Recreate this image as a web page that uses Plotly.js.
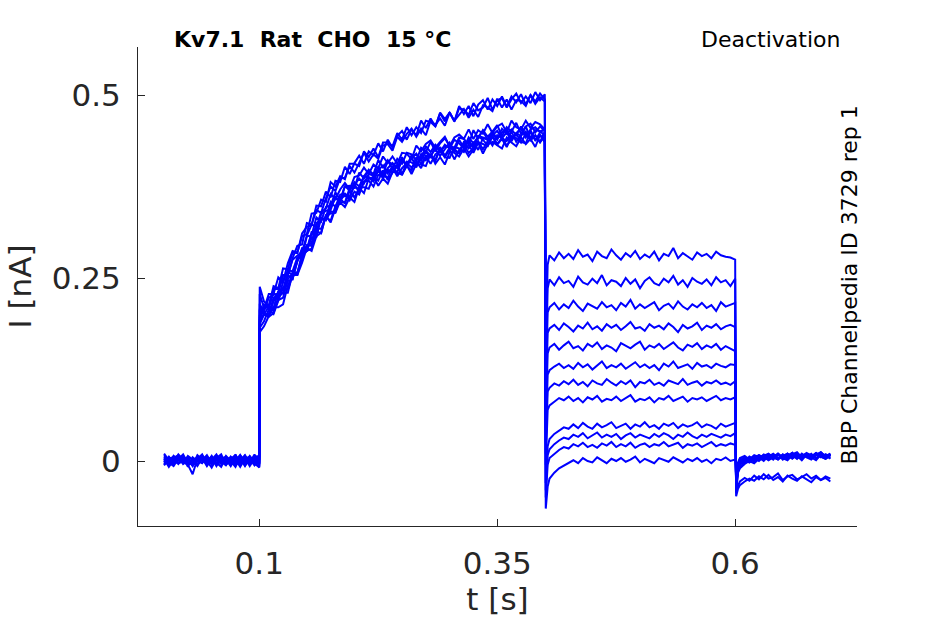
<!DOCTYPE html>
<html>
<head>
<meta charset="utf-8">
<script src="https://cdn.plot.ly/plotly-3.0.1.min.js"></script>
<style>
  html, body { margin: 0; padding: 0; background: #fff; }
  #myDiv { width: 945px; height: 624px; }
</style>
</head>
<body>
<div id="myDiv"></div>
<script>
// sample times (ms) for each protocol segment
var tPre = [0, 5, 10, 15, 20, 25, 30, 35, 40, 45, 50, 55, 60, 65, 70, 75, 80, 85, 90, 95, 100];
var tAct = [100.5, 105, 110, 115, 120, 125, 130, 135, 140, 145, 150, 155, 160, 165, 170, 175, 180, 185, 190, 195, 200,
            205, 210, 215, 220, 225, 230, 235, 240, 245, 250, 255, 260, 265, 270, 275, 280, 285, 290, 295, 300,
            305, 310, 315, 320, 325, 330, 335, 340, 345, 350, 355, 360, 365, 370, 375, 380, 385, 390, 395, 400];
var tDeact = [401, 403, 405, 410, 415, 420, 425, 430, 435, 440, 445, 450, 455, 460, 465, 470, 475, 480, 485, 490, 495, 500,
              505, 510, 515, 520, 525, 530, 535, 540, 545, 550, 555, 560, 565, 570, 575, 580, 585, 590, 595, 600];
var tTail = [601, 603, 605, 610, 615, 620, 625, 630, 635, 640, 645, 650, 655, 660, 665, 670, 675, 680, 685, 690, 695, 700];

// current (pA), one row per sweep
var preCurrent = [
  [4, -3, 7, 1, -2, 5, -6, 2, 8, -1, 3, -5, 6, 0, -4, 7, -2, 4, -7, 3, -3],
  [-2, 6, -4, 3, 9, -3, 1, -7, 4, -1, 6, -2, -8, 5, 2, -4, 8, -1, 3, -6, 2],
  [10, 1, -5, 6, -2, 4, -7, 3, 1, 8, -3, 5, -1, -6, 4, 2, -5, 7, -2, 9, -4],
  [-6, 3, 1, -4, 7, -8, 5, 0, -3, 6, -1, 4, 9, -5, 1, -3, 6, -6, 2, -2, 5],
  [1, -6, 4, 8, -2, -5, -18, 3, 9, -4, 1, 6, -3, 2, -7, 5, 0, -4, 7, -1, -9],
  [6, -2, -7, 3, 1, 5, -4, -1, 7, -6, 2, 9, -2, 4, -5, 1, 8, -3, 0, 5, 1],
  [-4, 5, 2, -3, 6, -1, -6, 8, 2, -4, 4, -7, 3, 6, -2, 9, -5, 1, -3, 4, -6],
  [3, -8, 1, 5, -3, 7, 2, -5, 4, 0, -9, 3, 6, -2, 5, -6, 1, 8, -3, 2, 0],
  [-1, 4, -3, 9, 2, -5, -2, 6, 4, -7, 3, 1, -4, 7, 0, -8, 5, 2, -2, 6, 4],
  [8, -1, -4, 2, 5, -6, 3, 1, -2, 4, -5, 7, 2, -3, 6, -1, 3, -7, 4, -2, -3],
  [-5, 2, 6, -3, -1, 4, -6, 5, 3, -2, 7, -4, 1, -5, 3, 8, -3, 2, -4, 6, 7],
  [2, 5, -2, 7, -4, 1, -3, -5, 6, 2, -1, 4, -3, 5, -6, 2, -8, 3, 6, -4, -8]
];

var actPeak = [238, 190, 182, 215, 205, 176, 228, 199, 196, 187, 208, 193];

var activation = [
  [218, 212, 239, 236, 263, 262, 285, 284, 311, 320, 322, 349, 348, 368, 360, 383, 381, 402, 392, 407,
   417, 406, 423, 418, 434, 423, 439, 428, 444, 451, 439, 453, 445, 465, 455, 468, 457, 475, 464, 476,
   464, 485, 474, 485, 471, 487, 493, 480, 494, 485, 498, 484, 498, 490, 501, 487, 500, 491, 502, 494],
  [214, 209, 230, 223, 244, 261, 259, 278, 279, 307, 308, 333, 327, 347, 349, 367, 357, 375, 376, 373,
   394, 386, 397, 392, 411, 401, 411, 399, 413, 406, 421, 419, 410, 428, 422, 436, 423, 434, 441, 430,
   428, 442, 440, 432, 452, 441, 452, 443, 450, 459, 444, 456, 450, 462, 447, 457, 461, 449, 457, 451],
  [191, 207, 201, 218, 237, 234, 254, 254, 280, 287, 290, 318, 317, 334, 328, 348, 358, 352, 369, 360,
   373, 366, 386, 388, 383, 397, 384, 394, 404, 392, 403, 397, 415, 406, 416, 406, 419, 424, 415, 426,
   412, 425, 432, 421, 427, 437, 426, 437, 444, 433, 442, 431, 439, 447, 436, 434, 450, 438, 445, 436],
  [202, 198, 218, 231, 229, 246, 248, 274, 283, 287, 313, 313, 332, 329, 347, 359, 354, 353, 373, 374,
   372, 389, 387, 382, 397, 404, 393, 402, 394, 411, 404, 415, 401, 418, 424, 417, 426, 417, 426, 435,
   423, 421, 436, 435, 429, 443, 439, 431, 445, 451, 441, 449, 437, 448, 454, 442, 452, 438, 449, 454],
  [208, 228, 228, 251, 245, 270, 287, 285, 307, 310, 338, 339, 357, 354, 381, 375, 389, 385, 406, 406,
   403, 423, 415, 427, 415, 435, 435, 430, 448, 439, 456, 445, 456, 448, 465, 463, 457, 476, 467, 476,
   464, 482, 480, 473, 489, 479, 483, 496, 480, 493, 496, 483, 494, 502, 489, 498, 489, 504, 493, 501],
  [184, 198, 210, 210, 214, 240, 254, 254, 271, 291, 287, 307, 312, 335, 326, 345, 353, 347, 360, 354,
   374, 374, 372, 389, 376, 386, 379, 395, 394, 391, 404, 392, 406, 405, 403, 420, 406, 415, 405, 422,
   421, 416, 427, 416, 426, 435, 420, 433, 436, 431, 427, 442, 435, 430, 442, 433, 440, 429, 446, 436],
  [209, 210, 209, 232, 234, 258, 255, 274, 291, 290, 311, 310, 337, 342, 343, 361, 354, 376, 369, 381,
   375, 389, 398, 389, 397, 392, 410, 405, 401, 413, 402, 418, 418, 412, 430, 422, 432, 422, 432, 427,
   439, 434, 427, 442, 434, 443, 451, 438, 447, 439, 454, 447, 453, 445, 457, 443, 453, 456, 449, 455],
  [204, 223, 227, 229, 254, 254, 275, 281, 286, 308, 323, 320, 340, 345, 365, 358, 371, 380, 371, 388,
   390, 401, 392, 405, 400, 416, 407, 416, 406, 421, 420, 412, 431, 423, 433, 438, 428, 436, 443, 430,
   442, 446, 440, 453, 440, 452, 447, 460, 448, 457, 461, 449, 465, 456, 453, 465, 455, 463, 460, 453],
  [213, 211, 235, 235, 254, 253, 277, 294, 296, 325, 323, 343, 339, 359, 375, 369, 386, 387, 403, 394,
   408, 421, 409, 419, 413, 431, 433, 424, 443, 436, 447, 454, 443, 454, 445, 465, 459, 468, 458, 476,
   465, 473, 481, 469, 480, 470, 486, 483, 478, 495, 483, 494, 480, 493, 492, 485, 500, 488, 497, 491],
  [200, 211, 205, 220, 223, 248, 257, 256, 284, 287, 305, 306, 332, 329, 341, 340, 360, 362, 360, 378,
   367, 381, 388, 384, 397, 386, 398, 395, 405, 391, 409, 408, 403, 419, 411, 418, 411, 429, 417, 428,
   426, 420, 435, 427, 435, 425, 441, 440, 431, 445, 441, 437, 450, 436, 445, 450, 438, 445, 436, 450],
  [200, 201, 223, 228, 230, 254, 249, 273, 288, 293, 298, 325, 329, 333, 354, 347, 364, 365, 361, 377,
   386, 379, 392, 390, 402, 390, 400, 407, 400, 415, 403, 413, 420, 410, 422, 414, 432, 423, 430, 429,
   423, 439, 428, 439, 427, 444, 442, 439, 450, 440, 449, 454, 440, 448, 444, 457, 441, 452, 451, 444],
  [201, 197, 202, 224, 230, 230, 256, 258, 276, 295, 294, 314, 311, 336, 338, 339, 355, 365, 356, 368,
   364, 382, 383, 375, 391, 390, 387, 401, 389, 400, 407, 401, 409, 400, 417, 416, 410, 426, 415, 414,
   429, 427, 422, 432, 421, 435, 433, 430, 443, 432, 440, 429, 444, 441, 435, 447, 439, 445, 435, 444]
];

var offDip   = [150, 120, 95, 70, 45, 25, 10, -5, -30, -40, -50, -65];
var offStart = [268, 236, 203, 175, 147, 118, 95, 70, 20, 8, -5, -35];

var deactivation = [
  [281, 274, 285, 277, 283, 276, 288, 279, 282, 273, 286, 280, 277, 289, 281, 275, 284, 279, 287, 276,
   282, 278, 286, 274, 283, 280, 291, 277, 284, 279, 275, 285, 280, 283, 277, 286, 281, 279, 278, 275],
  [248, 240, 251, 243, 246, 238, 252, 244, 241, 249, 243, 254, 240, 247, 245, 239, 250, 242, 248, 236,
   246, 251, 243, 240, 249, 244, 253, 241, 247, 238, 250, 245, 242, 248, 240, 251, 244, 247, 239, 249],
  [210, 216, 207, 214, 209, 219, 211, 205, 215, 212, 208, 217, 210, 213, 206, 216, 211, 220, 208, 214,
   209, 213, 217, 206, 212, 215, 208, 218, 211, 207, 214, 210, 216, 209, 213, 205, 217, 211, 214, 216],
  [181, 186, 179, 188, 183, 177, 185, 181, 189, 180, 184, 178, 187, 182, 186, 179, 184, 190, 181, 183,
   178, 187, 182, 185, 180, 188, 183, 176, 186, 181, 184, 189, 179, 185, 182, 187, 180, 184, 186, 183],
  [155, 160, 152, 158, 163, 154, 157, 151, 160, 156, 162, 153, 158, 155, 150, 161, 157, 154, 159, 163,
   152, 158, 155, 160, 153, 157, 162, 155, 151, 159, 156, 161, 153, 158, 155, 160, 152, 157, 154, 150],
  [124, 129, 133, 127, 131, 126, 134, 128, 132, 125, 130, 136, 127, 131, 128, 133, 126, 130, 135, 128,
   132, 127, 131, 124, 133, 129, 136, 127, 130, 132, 126, 134, 129, 131, 127, 133, 130, 128, 132, 131],
  [100, 106, 103, 109, 105, 111, 104, 108, 102, 110, 106, 104, 112, 107, 103, 109, 105, 110, 101, 108,
   106, 111, 104, 107, 103, 110, 108, 105, 112, 104, 107, 109, 103, 108, 106, 110, 105, 107, 104, 109],
  [76, 81, 86, 83, 88, 82, 86, 80, 87, 84, 89, 81, 85, 83, 88, 82, 86, 90, 81, 85,
   83, 87, 80, 86, 84, 89, 82, 85, 88, 81, 86, 84, 87, 82, 85, 89, 83, 86, 84, 87],
  [30, 37, 42, 46, 44, 50, 45, 52, 47, 44, 51, 46, 49, 53, 45, 48, 51, 44, 50, 47,
   53, 46, 49, 44, 51, 48, 52, 45, 50, 47, 49, 53, 46, 50, 48, 44, 51, 47, 49, 52],
  [16, 23, 28, 32, 30, 36, 33, 38, 31, 35, 39, 32, 36, 33, 37, 30, 35, 38, 32, 36,
   34, 31, 37, 33, 38, 35, 30, 36, 33, 39, 34, 31, 36, 33, 37, 35, 32, 36, 34, 38],
  [4, 10, 15, 19, 17, 23, 20, 25, 19, 22, 18, 24, 21, 26, 19, 23, 20, 25, 18, 22,
   24, 19, 23, 21, 26, 20, 22, 25, 18, 23, 21, 24, 19, 22, 26, 20, 23, 21, 24, 22],
  [-24, -16, -10, -6, -2, 1, -3, 4, 0, -2, 5, 1, -3, 3, 0, 4, -1, 2, 6, -2,
   3, 0, -3, 4, 1, -1, 5, 2, -2, 3, 0, 4, -1, 2, -3, 3, 1, 5, 0, 2]
];

var tailDip   = [-48, -42, -38, -33, -44, -30, -36, -28, -34, -31, -26, -22];
var tailStart = [-38, -34, -14, -10, -16, -8, -12, -5, -11, -7, -4, -2];

var tailCurrent = [
  [-33, -28, -24, -27, -21, -25, -19, -26, -22, -28, -20, -24, -27, -21, -25, -29, -22, -26, -23, -28],
  [-28, -23, -27, -20, -25, -18, -24, -22, -17, -26, -21, -19, -25, -22, -18, -24, -20, -26, -21, -24],
  [-8, -2, 3, -1, 5, 0, 7, 2, 9, 4, 1, 8, 3, 10, 5, 2, 9, 6, 3, 8],
  [-4, 1, -2, 4, 0, 6, 2, 8, 3, 5, 10, 4, 7, 1, 9, 5, 11, 6, 3, 8],
  [-10, -4, 0, -3, 3, 6, 1, 5, 9, 2, 7, 4, 10, 3, 8, 5, 1, 9, 6, 4],
  [-2, 3, -1, 5, 8, 2, 6, 10, 4, 7, 3, 9, 12, 5, 8, 4, 10, 6, 9, 7],
  [-5, 0, 4, 1, 6, 3, 8, 5, 2, 9, 6, 11, 4, 7, 10, 5, 8, 12, 6, 10],
  [1, 5, 2, 7, 3, 9, 6, 4, 10, 5, 8, 3, 9, 6, 11, 7, 4, 9, 6, 10],
  [-3, 2, -1, 5, 3, 8, 4, 6, 2, 9, 5, 7, 11, 4, 8, 6, 10, 5, 9, 3],
  [0, 4, 1, 6, 2, 7, 10, 5, 3, 8, 6, 11, 4, 9, 7, 3, 8, 12, 6, 9],
  [3, 0, 6, 2, 8, 5, 3, 9, 4, 7, 10, 5, 8, 2, 9, 6, 11, 7, 4, 9],
  [4, 7, 2, 8, 5, 3, 9, 6, 10, 4, 7, 11, 5, 8, 6, 10, 3, 8, 6, 9]
];

var xTicks = [0.1, 0.35, 0.6];
var xTickText = ['0.1', '0.35', '0.6'];
var yTicks = [0, 0.25, 0.5];
var yTickText = ['0', '0.25', '0.5'];

var ink = '#262626';
var tickFont = {family: 'DejaVu Sans', size: 31, color: ink};
var noteFont = {family: 'DejaVu Sans', size: 22, color: '#000'};

// ms -> s, pA -> nA
var time = tPre.concat(tAct, tDeact, tTail).map(function(v) { return v / 1000; });
var data = [];
for (var i = 0; i < preCurrent.length; i++) {
    var pA = preCurrent[i].concat([actPeak[i]], activation[i],
        [offDip[i], offStart[i]], deactivation[i],
        [tailDip[i], tailStart[i]], tailCurrent[i]);
    data.push({
        type: 'scatter',
        mode: 'lines',
        x: time,
        y: pA.map(function(v) { return v / 1000; }),
        line: {color: '#0000ff', width: 2},
        hoverinfo: 'skip',
        showlegend: false
    });
}

var layout = {
    width: 945,
    height: 624,
    margin: {l: 138, r: 88, t: 47, b: 98},
    paper_bgcolor: '#fff',
    plot_bgcolor: '#fff',
    font: {family: 'DejaVu Sans', color: ink},
    xaxis: {
        range: [-0.0274, 0.728],
        tickvals: xTicks,
        ticktext: xTickText,
        ticks: 'inside',
        ticklen: 7,
        tickcolor: ink,
        tickfont: tickFont,
        ticklabelstandoff: 10,
        showline: true,
        linecolor: ink,
        linewidth: 1,
        showgrid: false,
        zeroline: false,
        title: {text: 't [s]', font: tickFont, standoff: 7}
    },
    yaxis: {
        range: [-0.0888, 0.5656],
        tickvals: yTicks,
        ticktext: yTickText,
        ticks: 'inside',
        ticklen: 7,
        tickcolor: ink,
        tickfont: tickFont,
        ticklabelstandoff: 10,
        showline: true,
        linecolor: ink,
        linewidth: 1,
        showgrid: false,
        zeroline: false,
        title: {text: 'I [nA]', font: tickFont, standoff: 10}
    },
    annotations: [{
        text: '<b>Kv7.1\u00a0\u00a0Rat\u00a0\u00a0CHO\u00a0\u00a015\u00a0°C</b>',
        xref: 'paper', yref: 'paper', x: 0.0473, y: 1.0, xanchor: 'left', yanchor: 'bottom',
        yshift: -7, showarrow: false,
        font: noteFont
    }, {
        text: 'Deactivation',
        xref: 'paper', yref: 'paper', x: 0.979, y: 1.0, xanchor: 'right', yanchor: 'bottom',
        yshift: -7, showarrow: false,
        font: noteFont
    }, {
        text: 'BBP Channelpedia ID 3729 rep 1',
        xref: 'paper', yref: 'paper', x: 1.0, y: 0.502, xanchor: 'center', yanchor: 'middle',
        xshift: -7, textangle: -90, showarrow: false,
        font: noteFont
    }]
};

Plotly.newPlot('myDiv', data, layout, {staticPlot: true});
</script>
</body>
</html>
